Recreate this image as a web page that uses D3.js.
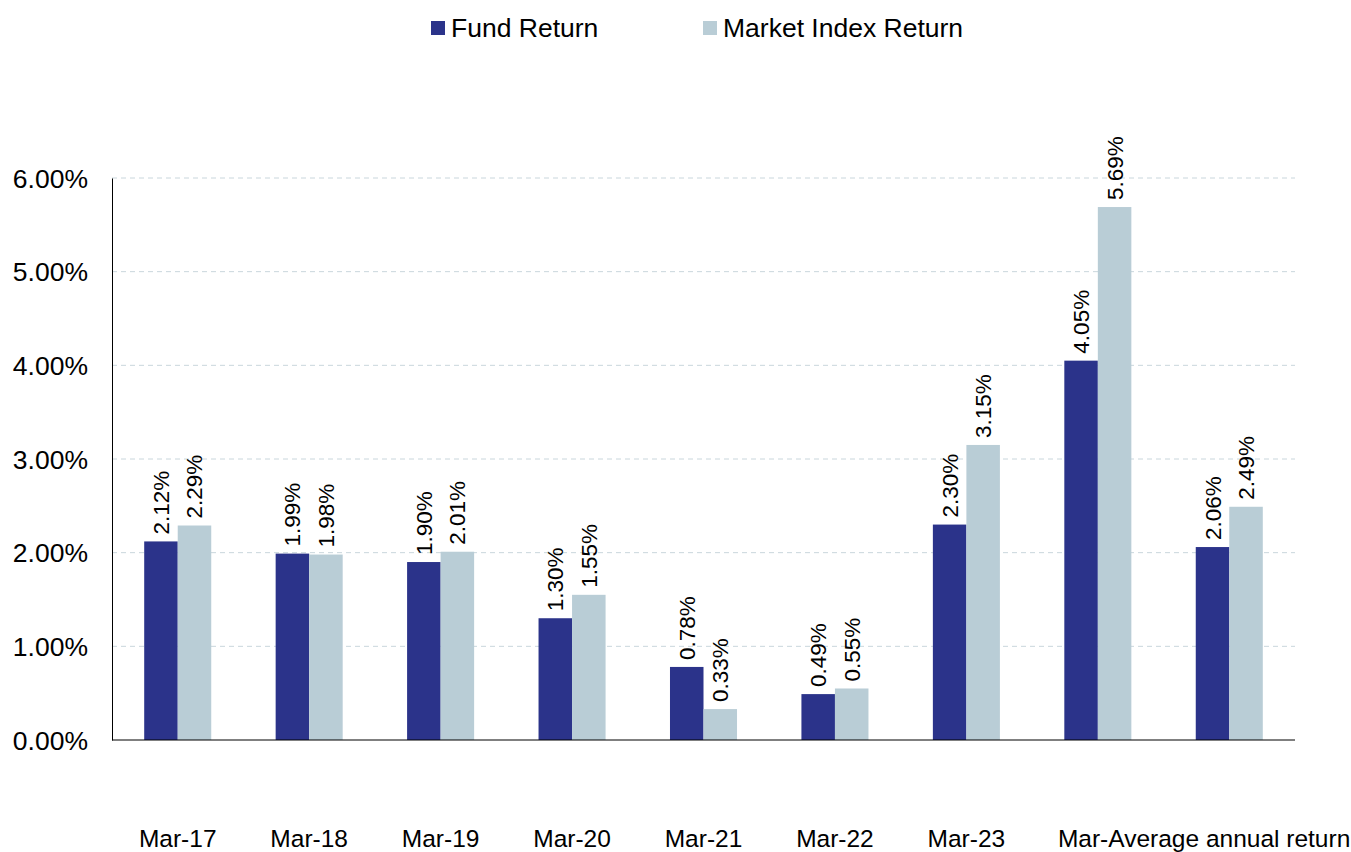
<!DOCTYPE html>
<html>
<head>
<meta charset="utf-8">
<script src="https://cdn.jsdelivr.net/npm/d3@7"></script>
<style>
  body { margin: 0; background: #fff; }
  svg { font-family: "Liberation Sans", Arial, sans-serif; }
</style>
</head>
<body>
<svg id="chart"></svg>
<script>
const categories = ['Mar-17', 'Mar-18', 'Mar-19', 'Mar-20', 'Mar-21', 'Mar-22', 'Mar-23', 'Mar-', 'Average annual return'];
const seriesNames = ['Fund Return', 'Market Index Return'];
const fundReturn = [2.12, 1.99, 1.90, 1.30, 0.78, 0.49, 2.30, 4.05, 2.06];
const indexReturn = [2.29, 1.98, 2.01, 1.55, 0.33, 0.55, 3.15, 5.69, 2.49];
const yTicks = [0, 1, 2, 3, 4, 5, 6];
const colors = ['#2b338a', '#b9cdd6'];

const config = {
  width: 1351, height: 852,
  margin: { top: 178, right: 56, bottom: 112, left: 112 },
};
const width = config.width - config.margin.left - config.margin.right;
const height = config.height - config.margin.top - config.margin.bottom;

const svg = d3.select('#chart')
  .attr('width', config.width)
  .attr('height', config.height);

const chart = svg.append('g')
  .attr('transform', `translate(${config.margin.left},${config.margin.top})`);

const keys = categories.map((c, i) => i);
const xScale = d3.scaleBand().domain(keys).range([0, width]).paddingInner(0.49).paddingOuter(0.245);
const xSub = d3.scaleBand().domain([0, 1]).range([0, xScale.bandwidth()]);
const yScale = d3.scaleLinear().domain([0, 6]).range([height, 0]);

// gridlines
chart.append('g')
  .selectAll('line')
  .data(yTicks.slice(1))
  .join('line')
  .attr('x1', 0)
  .attr('x2', width)
  .attr('y1', (d) => yScale(d))
  .attr('y2', (d) => yScale(d))
  .attr('stroke', '#c9d6dc')
  .attr('stroke-width', 1)
  .attr('stroke-dasharray', '5,4');

// y axis
const yAxisG = chart.append('g')
  .call(d3.axisLeft(yScale).tickValues(yTicks).tickSize(0).tickPadding(24).tickFormat((d) => d.toFixed(2) + '%'));
yAxisG.select('.domain').attr('stroke', '#000');
yAxisG.selectAll('text')
  .attr('font-size', 26.5)
  .attr('font-family', '"Liberation Sans", Arial, sans-serif')
  .attr('fill', '#000')
  .attr('dy', '0.35em');

const data = keys.map((i) => [fundReturn[i], indexReturn[i]]);

const groups = chart.append('g')
  .selectAll('g')
  .data(data)
  .join('g')
  .attr('transform', (d, i) => `translate(${xScale(i)},0)`);

groups.selectAll('rect')
  .data((d) => d.map((v, j) => ({ j, v })))
  .join('rect')
  .attr('x', (d) => xSub(d.j))
  .attr('y', (d) => yScale(d.v))
  .attr('width', xSub.bandwidth())
  .attr('height', (d) => height - yScale(d.v))
  .attr('fill', (d) => colors[d.j]);

groups.selectAll('text')
  .data((d) => d.map((v, j) => ({ j, v })))
  .join('text')
  .attr('transform', (d) => `translate(${xSub(d.j) + xSub.bandwidth() / 2 + 8},${yScale(d.v) - 7}) rotate(-90)`)
  .attr('font-size', 22.5)
  .attr('fill', '#000')
  .text((d) => d.v.toFixed(2) + '%');

// x axis line
chart.append('line')
  .attr('x1', 0).attr('x2', width)
  .attr('y1', height).attr('y2', height)
  .attr('stroke', '#000');

// x labels
const last = keys.length - 1;
const xLabels = chart.append('g')
  .selectAll('text')
  .data(keys)
  .join('text')
  .attr('x', (i) => xScale(i) + xScale.bandwidth() / 2)
  .attr('y', height + 107)
  .attr('text-anchor', 'middle')
  .attr('font-size', 24.5)
  .attr('fill', '#000')
  .text((i) => categories[i]);

// the truncated "Mar-" label butts up against the long last label
const lastBox = xLabels.filter((i) => i === last).node().getBBox();
xLabels.filter((i) => i === last - 1)
  .attr('x', lastBox.x)
  .attr('text-anchor', 'end');

// legend
const legendX = [431, 703];
const legend = svg.append('g')
  .selectAll('g')
  .data(seriesNames)
  .join('g')
  .attr('transform', (d, i) => `translate(${legendX[i]},21)`);
legend.append('rect')
  .attr('width', 14).attr('height', 14)
  .attr('fill', (d, i) => colors[i]);
legend.append('text')
  .attr('x', 20).attr('y', 7)
  .attr('dy', '0.35em')
  .attr('font-size', 26.5)
  .attr('fill', '#000')
  .text((d) => d);
</script>
</body>
</html>
